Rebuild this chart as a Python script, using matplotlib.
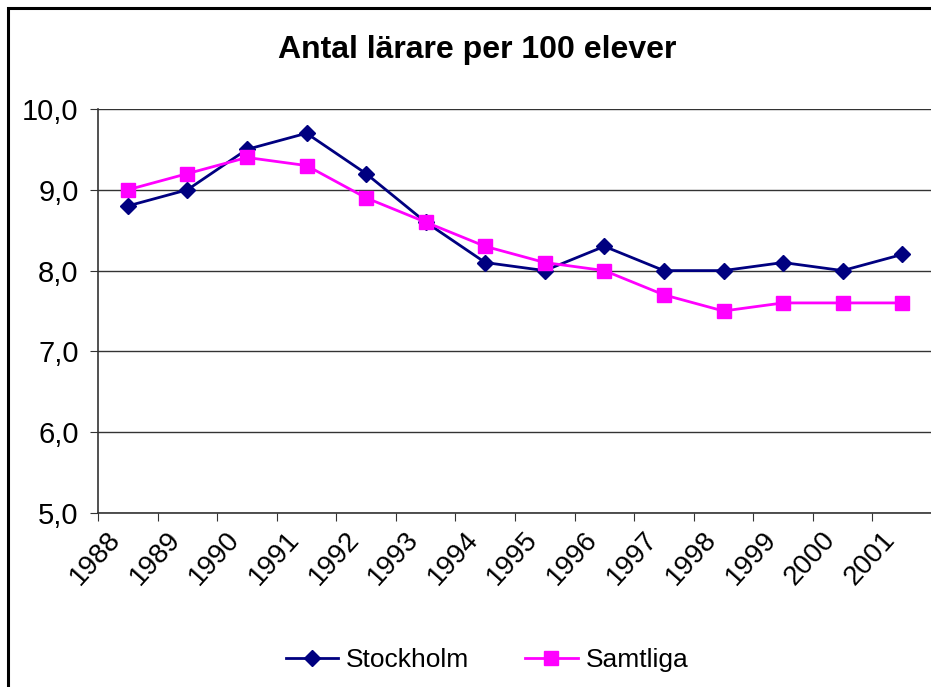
import matplotlib
matplotlib.use("Agg")
import matplotlib.pyplot as plt
from matplotlib.patches import Rectangle
from matplotlib.transforms import ScaledTranslation
import numpy as np

plt.rcParams['font.family'] = ['Liberation Sans', 'DejaVu Sans']

years = ["1988", "1989", "1990", "1991", "1992", "1993", "1994",
         "1995", "1996", "1997", "1998", "1999", "2000", "2001"]
stockholm = [8.8, 9.0, 9.5, 9.7, 9.2, 8.6, 8.1, 8.0, 8.3, 8.0, 8.0, 8.1, 8.0, 8.2]
samtliga = [9.0, 9.2, 9.4, 9.3, 8.9, 8.6, 8.3, 8.1, 8.0, 7.7, 7.5, 7.6, 7.6, 7.6]
yticks = [5.0, 6.0, 7.0, 8.0, 9.0, 10.0]
title = "Antal lärare per 100 elever"

W, H = 931, 687
fig = plt.figure(figsize=(W / 100, H / 100), dpi=100)

# chart border (right/bottom clipped in reference)
fig.add_artist(Rectangle((8 / W, -0.05), 1.1, 1 - 8 / H + 0.05, transform=fig.transFigure,
                         fill=False, edgecolor='black', lw=2.2, clip_on=False))

ax = fig.add_axes([98 / W, 1 - 513 / H, (932 - 98) / W, (513 - 109) / H])
x = np.arange(len(years))
ax.plot(x, stockholm, color='#000080', lw=2, marker='D', ms=8, label='Stockholm', zorder=3)
ax.plot(x, samtliga, color='#FF00FF', lw=2, marker='s', ms=10, label='Samtliga', zorder=3)

ax.set_xlim(-0.5, len(years) - 0.5)
ax.set_ylim(5.0, 10.0)
ax.set_yticks(yticks)
ax.set_yticklabels([f"{v:.1f}".replace('.', ',') for v in yticks], fontsize=21)
ax.yaxis.grid(True, color='#333333', lw=1)
ax.set_axisbelow(True)

ax.set_xticks(np.arange(len(years) + 1) - 0.5)
ax.set_xticklabels([])
ax.set_xticks(x, minor=True)
ax.set_xticklabels(years, minor=True, rotation=48, ha='right', va='top', fontsize=20,
                   rotation_mode='anchor')
ax.tick_params(axis='x', which='minor', length=0, pad=10)
ax.tick_params(axis='x', which='major', length=6, direction='out', color='#333333')
ax.tick_params(axis='y', length=6, direction='out', color='#333333', pad=8)

for s in ['top', 'right']:
    ax.spines[s].set_visible(False)
for s in ['left', 'bottom']:
    ax.spines[s].set_color('#333333')
    ax.spines[s].set_linewidth(1.2)

off = ScaledTranslation(-21 / 100, 0, fig.dpi_scale_trans)
for lab in ax.xaxis.get_minorticklabels():
    lab.set_transform(lab.get_transform() + off)

fig.text(477 / W, 1 - 50 / H, title, ha='center', va='center', fontsize=23, fontweight='bold')

leg = fig.legend(loc='center', bbox_to_anchor=(487 / W, 1 - 660 / H), ncol=2, frameon=False,
                 fontsize=19, handlelength=2.0, columnspacing=2.1, handletextpad=0.3)

fig.savefig("out.png", dpi=100)
